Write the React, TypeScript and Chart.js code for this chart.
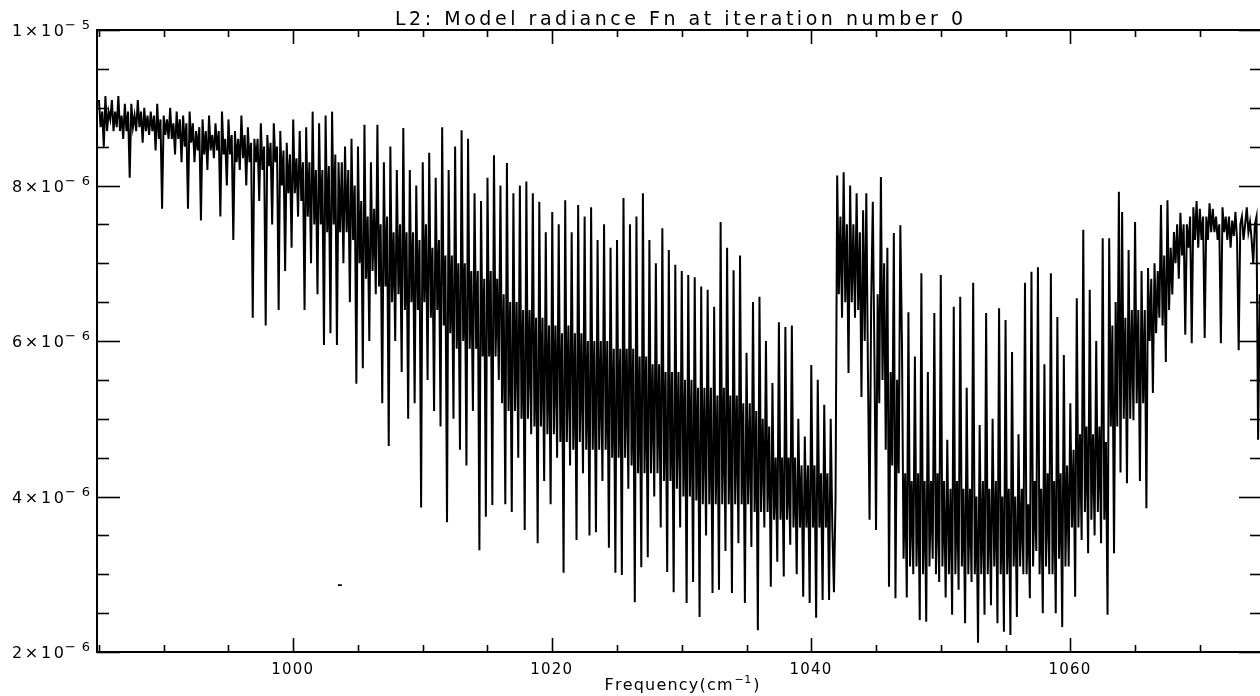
import React, { useEffect, useRef } from "react";
import { Chart, registerables } from "chart.js";

Chart.register(...registerables);

// ---------- text ----------
const titleText = "L2: Model radiance Fn at iteration number 0";
const xAxisLabel = "Frequency(cm";
const xAxisLabelExp = "−1";
const xAxisLabelEnd = ")";

// ---------- data (radiance in units of 1e-6) ----------
const freqStart = 985.0; // cm^-1, first sample
const freqStep = 0.125; // cm^-1, sampling grid (8 samples per cm^-1)
const radiance = [
  /* 985 */ 9.1, 8.75, 8.95, 8.5, 9.15, 8.7, 8.95, 8.85,
  /* 986 */ 9.1, 8.7, 8.95, 8.75, 9.15, 8.7, 8.9, 8.6,
  /* 987 */ 9.05, 8.7, 8.95, 8.1, 9.05, 8.75, 8.9, 8.7,
  /* 988 */ 9.1, 8.75, 8.95, 8.55, 9.0, 8.7, 8.9, 8.65,
  /* 989 */ 8.95, 8.7, 8.9, 8.45, 9.05, 8.6, 8.85, 7.7,
  /* 990 */ 8.9, 8.65, 8.85, 8.6, 9.0, 8.6, 8.8, 8.4,
  /* 991 */ 8.95, 8.6, 8.85, 8.3, 8.9, 8.5, 8.8, 7.7,
  /* 992 */ 8.95, 8.55, 8.8, 8.3, 8.7, 8.45, 8.75, 7.55,
  /* 993 */ 8.85, 8.4, 8.7, 8.2, 8.9, 8.45, 8.65, 8.35,
  /* 994 */ 8.8, 8.45, 8.7, 7.6, 8.95, 8.4, 8.6, 8.0,
  /* 995 */ 8.85, 8.4, 8.65, 7.3, 8.7, 8.3, 8.6, 8.2,
  /* 996 */ 8.9, 8.35, 8.65, 8.0, 8.75, 8.3, 8.55, 6.3,
  /* 997 */ 8.6, 8.3, 8.6, 7.8, 8.8, 8.2, 8.5, 6.2,
  /* 998 */ 8.65, 8.25, 8.55, 7.5, 8.8, 8.3, 8.5, 6.4,
  /* 999 */ 8.7, 8.0, 8.45, 6.9, 8.55, 7.9, 8.4, 7.2,
  /* 1000 */ 8.85, 7.9, 8.35, 7.6, 8.7, 7.8, 8.3, 6.4,
  /* 1001 */ 8.75, 7.6, 8.3, 7.0, 8.95, 7.5, 8.2, 6.6,
  /* 1002 */ 8.8, 7.5, 8.2, 5.95, 8.9, 7.4, 8.25, 6.1,
  /* 1003 */ 8.95, 7.5, 8.4, 5.95, 8.3, 7.4, 8.3, 7.0,
  /* 1004 */ 8.5, 7.4, 8.2, 6.5, 8.6, 7.3, 8.0, 5.45,
  /* 1005 */ 8.5, 7.0, 7.8, 5.65, 8.78, 6.8, 7.6, 6.0,
  /* 1006 */ 8.3, 6.9, 7.7, 6.6, 8.78, 6.7, 7.5, 5.2,
  /* 1007 */ 8.3, 6.7, 7.6, 4.65, 8.5, 6.5, 7.4, 6.0,
  /* 1008 */ 8.2, 6.6, 7.5, 5.6, 8.74, 6.4, 7.4, 5.0,
  /* 1009 */ 8.2, 6.5, 7.4, 5.2, 8.0, 6.4, 7.3, 3.86,
  /* 1010 */ 8.3, 6.5, 7.5, 5.5, 8.42, 6.3, 7.2, 5.1,
  /* 1011 */ 8.1, 6.4, 7.3, 4.9, 8.75, 6.2, 7.1, 3.67,
  /* 1012 */ 8.2, 6.1, 7.1, 5.0, 8.5, 5.9, 7.0, 4.6,
  /* 1013 */ 8.71, 6.0, 7.0, 4.4, 8.6, 5.9, 6.9, 5.1,
  /* 1014 */ 7.9, 5.9, 6.9, 3.31, 7.8, 5.8, 6.8, 3.74,
  /* 1015 */ 8.1, 5.8, 6.9, 3.89, 8.39, 5.8, 6.8, 5.5,
  /* 1016 */ 8.0, 5.2, 6.6, 3.9, 8.29, 5.1, 6.5, 3.8,
  /* 1017 */ 7.9, 5.1, 6.5, 4.5, 8.0, 5.0, 6.4, 3.57,
  /* 1018 */ 8.05, 5.0, 6.4, 4.8, 7.9, 4.9, 6.3, 3.4,
  /* 1019 */ 7.79, 4.9, 6.3, 4.2, 7.4, 4.8, 6.2, 3.9,
  /* 1020 */ 7.66, 4.8, 6.2, 4.5, 7.5, 4.7, 6.1, 3.02,
  /* 1021 */ 7.81, 4.7, 6.2, 4.4, 7.4, 4.6, 6.1, 3.44,
  /* 1022 */ 7.75, 4.7, 6.1, 4.3, 7.6, 4.6, 6.0, 3.5,
  /* 1023 */ 7.72, 4.6, 6.0, 3.54, 7.3, 4.6, 6.0, 4.2,
  /* 1024 */ 7.5, 4.6, 6.0, 3.34, 7.2, 4.5, 5.9, 3.02,
  /* 1025 */ 7.3, 4.5, 5.9, 2.99, 7.84, 4.5, 5.9, 4.1,
  /* 1026 */ 7.5, 4.4, 5.9, 2.64, 7.6, 4.3, 5.8, 3.09,
  /* 1027 */ 7.9, 4.3, 5.8, 3.22, 7.3, 4.3, 5.7, 4.0,
  /* 1028 */ 7.0, 4.3, 5.7, 3.6, 7.45, 4.2, 5.6, 3.03,
  /* 1029 */ 7.17, 4.2, 5.6, 2.77, 6.98, 4.1, 5.6, 3.6,
  /* 1030 */ 6.9, 4.0, 5.5, 2.63, 6.85, 4.0, 5.5, 2.9,
  /* 1031 */ 6.82, 3.95, 5.4, 2.45, 6.7, 3.9, 5.4, 3.5,
  /* 1032 */ 6.66, 3.9, 5.4, 2.76, 6.44, 3.9, 5.3, 2.8,
  /* 1033 */ 7.53, 3.9, 5.4, 3.3, 7.2, 3.9, 5.3, 2.76,
  /* 1034 */ 6.91, 3.9, 5.3, 3.4, 7.1, 3.9, 5.2, 2.63,
  /* 1035 */ 5.85, 3.9, 5.2, 3.35, 6.5, 3.8, 5.1, 2.28,
  /* 1036 */ 6.57, 3.8, 5.0, 3.6, 6.0, 3.8, 4.9, 2.84,
  /* 1037 */ 5.46, 3.7, 4.5, 3.16, 6.24, 3.7, 4.5, 2.97,
  /* 1038 */ 6.18, 3.7, 4.5, 3.38, 6.2, 3.6, 4.5, 3.0,
  /* 1039 */ 5.0, 3.6, 4.4, 2.71, 4.77, 3.6, 4.4, 2.63,
  /* 1040 */ 5.69, 3.6, 4.4, 2.44, 5.5, 3.6, 4.3, 2.67,
  /* 1041 */ 5.18, 3.6, 4.3, 2.67, 5.0, 3.6, 2.77, 4.0,
  /* 1042 */ 8.13, 6.6, 7.6, 6.3, 8.17, 6.5, 7.5, 5.59,
  /* 1043 */ 8.0, 6.5, 7.5, 6.3, 7.9, 6.4, 7.4, 5.28,
  /* 1044 */ 7.68, 6.0, 7.9, 5.6, 3.7, 6.5, 7.79, 5.8,
  /* 1045 */ 3.57, 6.6, 5.2, 8.11, 5.5, 7.0, 4.6, 7.2,
  /* 1046 */ 2.84, 5.6, 4.4, 7.39, 2.69, 5.5, 4.3, 7.49,
  /* 1047 */ 6.0, 3.2, 4.3, 2.7, 6.37, 3.1, 4.2, 3.0,
  /* 1048 */ 5.8, 3.1, 4.3, 2.41, 6.87, 3.0, 4.2, 2.39,
  /* 1049 */ 5.6, 3.1, 4.2, 3.2, 6.36, 3.0, 4.3, 2.9,
  /* 1050 */ 6.85, 3.1, 4.2, 2.7, 4.73, 3.0, 4.1, 2.48,
  /* 1051 */ 6.44, 3.0, 4.2, 2.8, 6.57, 3.1, 4.1, 2.37,
  /* 1052 */ 5.4, 3.0, 4.1, 2.9, 6.75, 3.0, 4.0, 2.12,
  /* 1053 */ 4.92, 3.0, 4.2, 2.48, 6.36, 3.0, 4.1, 2.6,
  /* 1054 */ 5.0, 3.1, 4.2, 2.37, 6.42, 3.0, 4.0, 2.26,
  /* 1055 */ 6.27, 3.0, 4.1, 2.22, 5.86, 3.1, 4.0, 2.45,
  /* 1056 */ 4.8, 3.1, 4.1, 3.0, 6.75, 3.0, 3.9, 2.69,
  /* 1057 */ 6.89, 3.1, 4.2, 3.3, 6.95, 3.0, 4.1, 2.5,
  /* 1058 */ 5.7, 3.1, 4.3, 3.0, 6.87, 3.0, 4.2, 2.5,
  /* 1059 */ 6.31, 3.2, 4.3, 2.32, 5.82, 3.1, 4.4, 3.1,
  /* 1060 */ 5.2, 3.6, 4.6, 2.71, 6.55, 3.6, 4.8, 3.44,
  /* 1061 */ 7.43, 3.8, 4.9, 3.27, 6.66, 3.7, 4.8, 3.5,
  /* 1062 */ 6.0, 3.8, 4.9, 3.4, 7.32, 3.7, 4.7, 2.48,
  /* 1063 */ 7.32, 4.9, 6.2, 3.27, 6.5, 4.9, 7.92, 4.31,
  /* 1064 */ 7.66, 5.0, 6.3, 4.17, 7.17, 5.0, 6.4, 4.98,
  /* 1065 */ 7.53, 5.2, 6.4, 4.2, 6.9, 5.2, 6.4, 3.85,
  /* 1066 */ 6.94, 6.0, 6.8, 5.33, 7.0, 6.1, 6.9, 6.3,
  /* 1067 */ 7.75, 6.2, 7.1, 5.73, 7.81, 6.4, 7.2, 6.6,
  /* 1068 */ 7.4, 7.0, 7.5, 6.8, 7.65, 7.1, 7.5, 6.08,
  /* 1069 */ 7.5, 7.2, 7.6, 5.97, 7.72, 7.3, 7.8, 7.2,
  /* 1070 */ 7.7, 7.3, 7.6, 6.04, 7.6, 7.3, 7.77, 7.4,
  /* 1071 */ 7.7, 7.4, 7.6, 7.3, 7.5, 5.97, 7.72, 7.4,
  /* 1072 */ 7.6, 7.3, 7.6, 7.2, 7.55, 7.35, 7.66, 7.3,
  /* 1073 */ 5.88, 7.5, 7.6, 7.3, 7.5, 7.72, 7.4, 7.53,
  /* 1074 */ 7.3, 7.0, 7.5, 7.6, 4.73, 6.6,
];

// small isolated stroke below the spectrum
const strayFreq = [1003.45, 1003.75];
const strayRadiance = [2.86, 2.86];

// ---------- axes ----------
const xMin = 984.85;
const xMax = 1074.8;
const yMin = 2;
const yMax = 10;
const xMajorTicks = [1000, 1020, 1040, 1060];
const xMajorLabels = ["1000", "1020", "1040", "1060"];
const xMinorTicks = [985, 990, 995, 1005, 1010, 1015, 1025, 1030, 1035, 1045, 1050, 1055, 1065, 1070];
const yMajorTicks = [2, 4, 6, 8, 10];
const yLabelBase = ["2×10", "4×10", "6×10", "8×10", "1×10"];
const yLabelExp = ["−6", "−6", "−6", "−6", "−5"];
const yMinorTicks = [2.5, 3, 3.5, 4.5, 5, 5.5, 6.5, 7, 7.5, 8.5, 9, 9.5];

const FONT = "'DejaVu Sans', 'Liberation Sans', sans-serif";

function textWidth(ctx: CanvasRenderingContext2D, text: string, spacing: number) {
  let w = 0;
  const chars = Array.from(text);
  chars.forEach((c, i) => {
    w += ctx.measureText(c).width + (i < chars.length - 1 ? spacing : 0);
  });
  return w;
}

function drawSpaced(ctx: CanvasRenderingContext2D, text: string, x: number, y: number, spacing: number) {
  let cx = x;
  for (const c of Array.from(text)) {
    ctx.fillText(c, cx, y);
    cx += ctx.measureText(c).width + spacing;
  }
  return cx - spacing;
}

function spacingFor(ctx: CanvasRenderingContext2D, text: string, target: number) {
  const n = Array.from(text).length;
  const w = textWidth(ctx, text, 0);
  return n > 1 ? (target - w) / (n - 1) : 0;
}

const framePlugin = {
  id: "idlFrame",
  beforeDraw(chart: any) {
    const ctx = chart.ctx as CanvasRenderingContext2D;
    ctx.save();
    ctx.fillStyle = "#fff";
    ctx.fillRect(0, 0, chart.width, chart.height);
    ctx.restore();
  },
  afterDatasetsDraw(chart: any) {
    const ctx = chart.ctx as CanvasRenderingContext2D;
    const a = chart.chartArea;
    const xs = chart.scales.x;
    const ys = chart.scales.y;
    ctx.save();
    ctx.strokeStyle = "#000";
    ctx.lineWidth = 2;
    ctx.strokeRect(a.left, a.top, a.right - a.left, a.bottom - a.top);
    ctx.lineWidth = 1.6;
    const seg = (x1: number, y1: number, x2: number, y2: number) => {
      ctx.beginPath();
      ctx.moveTo(x1, y1);
      ctx.lineTo(x2, y2);
      ctx.stroke();
    };
    xMajorTicks.forEach((v) => {
      const px = Math.round(xs.getPixelForValue(v)) + 0.5;
      seg(px, a.bottom, px, a.bottom - 14);
      seg(px, a.top, px, a.top + 14);
    });
    xMinorTicks.forEach((v) => {
      const px = Math.round(xs.getPixelForValue(v)) + 0.5;
      seg(px, a.bottom, px, a.bottom - 7);
      seg(px, a.top, px, a.top + 7);
    });
    yMajorTicks.forEach((v) => {
      const py = Math.round(ys.getPixelForValue(v)) + 0.5;
      seg(a.left, py, a.left + 23, py);
      seg(a.right, py, a.right - 23, py);
    });
    yMinorTicks.forEach((v) => {
      const py = Math.round(ys.getPixelForValue(v)) + 0.5;
      seg(a.left, py, a.left + 12, py);
      seg(a.right, py, a.right - 12, py);
    });
    ctx.restore();
  },
  afterDraw(chart: any) {
    const ctx = chart.ctx as CanvasRenderingContext2D;
    const a = chart.chartArea;
    const xs = chart.scales.x;
    const ys = chart.scales.y;
    ctx.save();
    ctx.fillStyle = "#000";
    ctx.textBaseline = "alphabetic";
    ctx.textAlign = "left";

    // title
    ctx.font = `19px ${FONT}`;
    const tSp = spacingFor(ctx, titleText, 568);
    const tW = textWidth(ctx, titleText, tSp);
    drawSpaced(ctx, titleText, 679 - tW / 2, 25, tSp);

    // x tick labels
    ctx.font = `15px ${FONT}`;
    xMajorTicks.forEach((v, i) => {
      const px = xs.getPixelForValue(v);
      const lbl = xMajorLabels[i];
      const w = textWidth(ctx, lbl, 1.2);
      drawSpaced(ctx, lbl, px - w / 2 - 1, a.bottom + 22, 1.2);
    });

    // x axis title with superscript
    ctx.font = `16px ${FONT}`;
    const sp1 = 1.2;
    const w1 = textWidth(ctx, xAxisLabel, sp1);
    const w3 = textWidth(ctx, xAxisLabelEnd, 0);
    ctx.font = `11px ${FONT}`;
    const w2 = textWidth(ctx, xAxisLabelExp, 0.5);
    const total = w1 + 2 + w2 + 2 + w3;
    let cx = 682 - total / 2;
    const base = a.bottom + 38;
    ctx.font = `16px ${FONT}`;
    cx = drawSpaced(ctx, xAxisLabel, cx, base, sp1) + 2;
    ctx.font = `11px ${FONT}`;
    cx = drawSpaced(ctx, xAxisLabelExp, cx, base - 7, 0.5) + 2;
    ctx.font = `16px ${FONT}`;
    drawSpaced(ctx, xAxisLabelEnd, cx, base, 0);

    // y tick labels with superscripts
    yMajorTicks.forEach((v, i) => {
      const py = ys.getPixelForValue(v);
      ctx.font = `13px ${FONT}`;
      const eSp = spacingFor(ctx, yLabelExp[i], 25);
      const eW = textWidth(ctx, yLabelExp[i], eSp);
      const eX = 90 - eW;
      drawSpaced(ctx, yLabelExp[i], eX, py - 1, eSp);
      ctx.font = `16px ${FONT}`;
      const bSp = spacingFor(ctx, yLabelBase[i], 52);
      const bW = textWidth(ctx, yLabelBase[i], bSp);
      drawSpaced(ctx, yLabelBase[i], eX - 1 - bW, py + 6, bSp);
    });
    ctx.restore();
  },
};

export default function App() {
  const ref = useRef<HTMLCanvasElement>(null);
  useEffect(() => {
    document.documentElement.style.overflow = "hidden";
    document.body.style.margin = "0";
    document.body.style.overflow = "hidden";
    if (!ref.current) return;
    const points = radiance.map((v, i) => ({ x: freqStart + i * freqStep, y: v }));
    const stray = strayFreq.map((f, i) => ({ x: f, y: strayRadiance[i] }));
    const chart = new Chart(ref.current, {
      type: "line",
      data: {
        datasets: [
          {
            data: points,
            borderColor: "#000",
            borderWidth: 2.0,
            pointRadius: 0,
            tension: 0,
            fill: false,
          },
          {
            data: stray,
            borderColor: "#000",
            borderWidth: 1.8,
            pointRadius: 0,
            tension: 0,
            fill: false,
          },
        ],
      },
      options: {
        animation: false,
        responsive: false,
        devicePixelRatio: 1,
        events: [],
        layout: { padding: { left: 97, top: 30, right: 2, bottom: 44 } },
        plugins: {
          legend: { display: false },
          tooltip: { enabled: false },
          title: { display: false },
        },
        scales: {
          x: { type: "linear", min: xMin, max: xMax, display: false },
          y: { type: "linear", min: yMin, max: yMax, display: false },
        },
      },
      plugins: [framePlugin],
    });
    return () => chart.destroy();
  }, []);
  return (
    <div style={{ width: 1264, height: 696, overflow: "hidden" }}>
      <canvas ref={ref} width={1264} height={696} style={{ display: "block" }} />
    </div>
  );
}
